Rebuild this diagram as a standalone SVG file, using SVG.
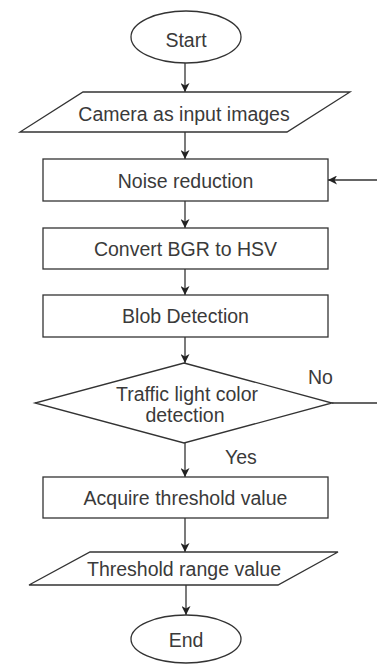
<svg xmlns="http://www.w3.org/2000/svg" width="377" height="666" viewBox="0 0 377 666">
  <style>
    .shape { fill: #ffffff; stroke: #333333; stroke-width: 1.3; }
    .edge { fill: none; stroke: #333333; stroke-width: 1.3; }
    .label { font-family: "Liberation Sans", Arial, sans-serif; font-size: 19.5px; fill: #3a3a3a; text-anchor: middle; }
    .side { text-anchor: start; }
  </style>
  <defs>
    <marker id="arrow" markerUnits="userSpaceOnUse" markerWidth="10" markerHeight="9" refX="9" refY="4.5" orient="auto">
      <path d="M0,0 L9,4.5 L0,9 L2.5,4.5 z" fill="#222222"/>
    </marker>
  </defs>
  <rect width="377" height="666" fill="#ffffff"/>

  <!-- connectors -->
  <g id="connectors">
    <line class="edge" x1="185" y1="63" x2="185" y2="92" marker-end="url(#arrow)"/>
    <line class="edge" x1="185" y1="132" x2="185" y2="159" marker-end="url(#arrow)"/>
    <line class="edge" x1="185" y1="201" x2="185" y2="228" marker-end="url(#arrow)"/>
    <line class="edge" x1="185" y1="269" x2="185" y2="295" marker-end="url(#arrow)"/>
    <line class="edge" x1="185" y1="337" x2="185" y2="363" marker-end="url(#arrow)"/>
    <line class="edge" x1="185" y1="443" x2="185" y2="477" marker-end="url(#arrow)"/>
    <line class="edge" x1="185" y1="518" x2="185" y2="552" marker-end="url(#arrow)"/>
    <line class="edge" x1="186" y1="585" x2="186" y2="615" marker-end="url(#arrow)"/>
    <!-- "No" branch loops back to noise reduction -->
    <path class="edge" d="M332,403 H381 V180 H328" marker-end="url(#arrow)"/>
    <text class="label side" x="225" y="464">Yes</text>
    <text class="label side" x="308" y="384">No</text>
  </g>

  <g id="start">
    <ellipse class="shape" cx="186" cy="37" rx="55" ry="26"/>
    <text class="label" x="186" y="46.5">Start</text>
  </g>

  <g id="camera">
    <polygon class="shape" points="83,92 350,92 287,132 20,132"/>
    <text class="label" x="184" y="121">Camera as input images</text>
  </g>

  <g id="noise">
    <rect class="shape" x="43" y="159" width="285" height="42"/>
    <text class="label" x="185.5" y="187.5">Noise reduction</text>
  </g>

  <g id="convert">
    <rect class="shape" x="43" y="228" width="285" height="41"/>
    <text class="label" x="185.5" y="256">Convert BGR to HSV</text>
  </g>

  <g id="blob">
    <rect class="shape" x="43" y="295" width="285" height="42"/>
    <text class="label" x="185.5" y="323">Blob Detection</text>
  </g>

  <g id="decision">
    <polygon class="shape" points="184,363 332,403 184,443 35,403"/>
    <text class="label" x="187" y="400.5">Traffic light color</text>
    <text class="label" x="185" y="421.5">detection</text>
  </g>

  <g id="acquire">
    <rect class="shape" x="43" y="477" width="285" height="41"/>
    <text class="label" x="185.5" y="505">Acquire threshold value</text>
  </g>

  <g id="range">
    <polygon class="shape" points="90,552 338,552 278,585 29,585"/>
    <text class="label" x="184" y="576">Threshold range value</text>
  </g>

  <g id="end">
    <ellipse class="shape" cx="186" cy="639" rx="55" ry="24"/>
    <text class="label" x="186" y="646.5">End</text>
  </g>
</svg>
